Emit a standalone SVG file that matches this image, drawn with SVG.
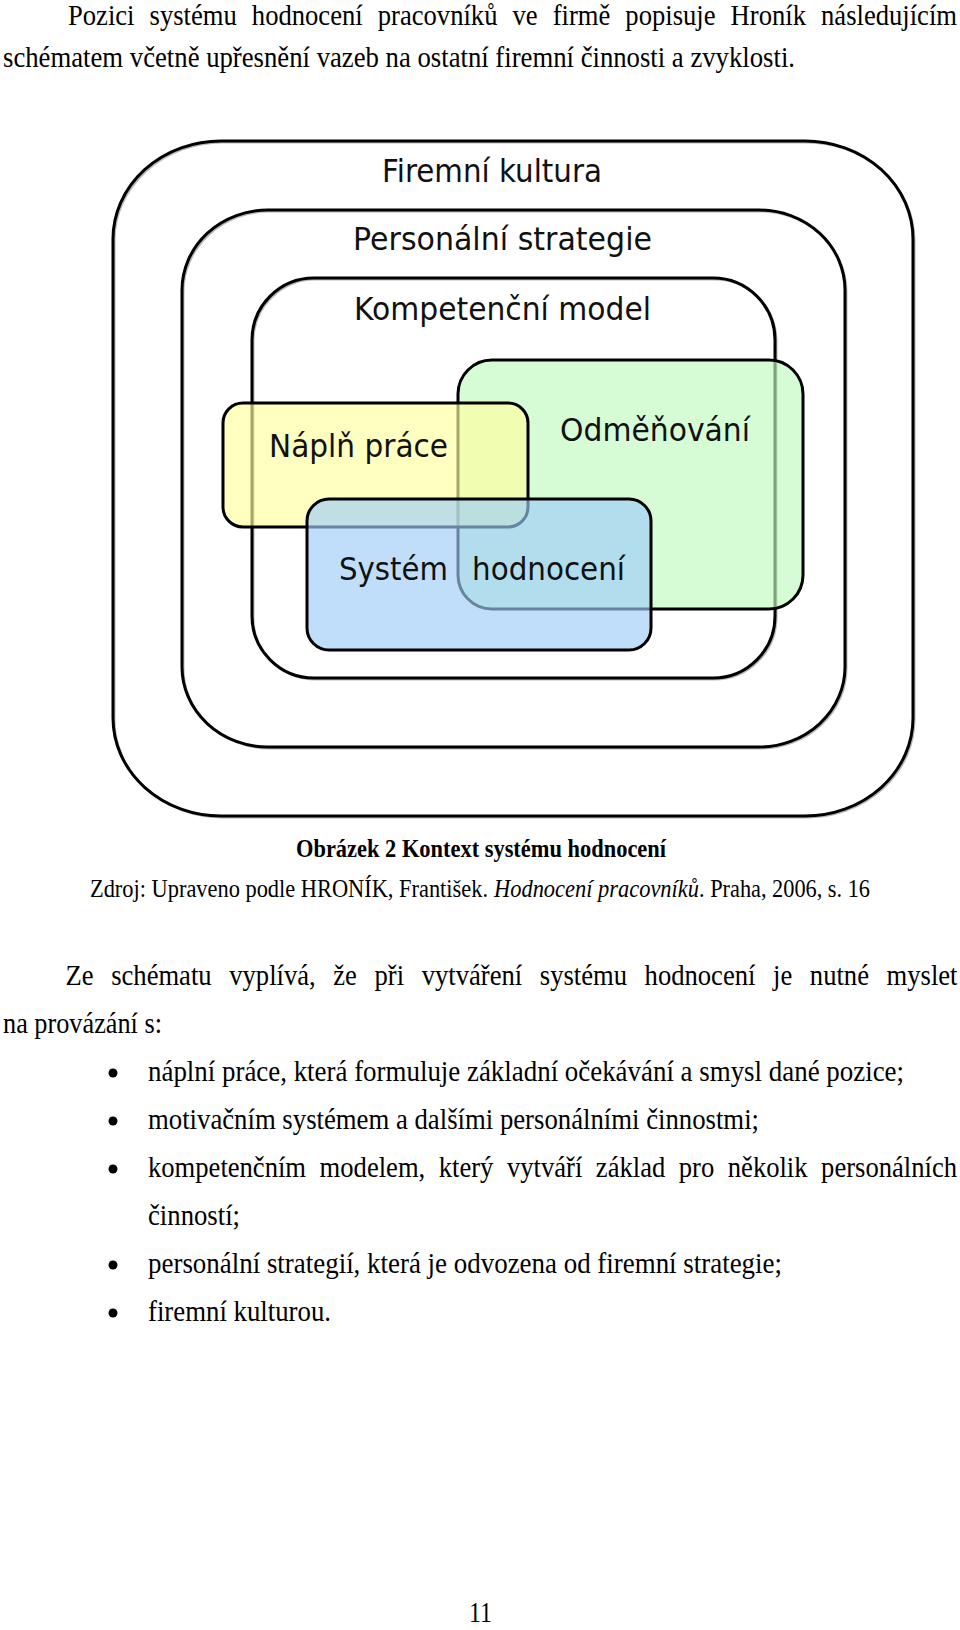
<svg xmlns="http://www.w3.org/2000/svg" width="960" height="1630" viewBox="0 0 960 1630">
<defs>
<style>
.body{font-family:"Liberation Serif","Times New Roman",serif;font-size:26.6px;fill:#000}
.cap{font-family:"Liberation Serif","Times New Roman",serif;font-size:22.4px;fill:#000}
.lab{font-family:"DejaVu Sans","Liberation Sans",sans-serif;font-size:32px;fill:#111}
.frame{fill:none;stroke:#000;stroke-width:3}
.shadow{fill:none;stroke:#b8b8b8;stroke-width:2}
.box{stroke:#000;stroke-width:3}
</style>
</defs>
<rect x="0" y="0" width="960" height="1630" fill="#fff"/>

<g id="intro-text">
<text class="body" transform="translate(68,25) scale(1,1.13)" x="0" y="0" textLength="889" lengthAdjust="spacingAndGlyphs" word-spacing="8.4">Pozici systému hodnocení pracovníků ve firmě popisuje Hroník následujícím</text>
<text class="body" transform="translate(3,67) scale(1,1.13)" x="0" y="0" textLength="792" lengthAdjust="spacingAndGlyphs">schématem včetně upřesnění vazeb na ostatní firemní činnosti a zvyklosti.</text>
</g>

<g id="diagram">
<g id="firemni-kultura">
<rect class="shadow" x="114.5" y="142.5" width="800" height="675" rx="108" ry="98"/>
<rect class="frame" x="113" y="141" width="800" height="675" rx="108" ry="98"/>
<text class="lab" x="382" y="182" textLength="220" lengthAdjust="spacingAndGlyphs">Firemní kultura</text>
</g>
<g id="personalni-strategie">
<rect class="shadow" x="183.5" y="211.5" width="663" height="537" rx="86" ry="80"/>
<rect class="frame" x="182" y="210" width="663" height="537" rx="86" ry="80"/>
<text class="lab" x="353" y="250" textLength="299" lengthAdjust="spacingAndGlyphs">Personální strategie</text>
</g>
<g id="kompetencni-model">
<rect class="shadow" x="253.5" y="279.5" width="523" height="400" rx="62" ry="62"/>
<rect class="frame" x="252" y="278" width="523" height="400" rx="62" ry="62"/>
<text class="lab" x="354" y="320" textLength="297" lengthAdjust="spacingAndGlyphs">Kompetenční model</text>
</g>
<g id="odmenovani">
<rect class="box" x="458" y="360" width="345" height="249" rx="34" ry="34" fill="#C0FAC0" fill-opacity="0.65"/>
</g>
<g id="napln-prace">
<rect class="box" x="223" y="403" width="305" height="124" rx="20" ry="20" fill="#FFFF9E" fill-opacity="0.65"/>
</g>
<g id="system-hodnoceni">
<rect class="box" x="307" y="499" width="344" height="151" rx="22" ry="22" fill="#9ECCF7" fill-opacity="0.65"/>
</g>
<g id="labels">
<text class="lab" x="560" y="441" textLength="190" lengthAdjust="spacingAndGlyphs">Odměňování</text>
<text class="lab" x="269" y="457" textLength="179" lengthAdjust="spacingAndGlyphs">Náplň práce</text>
<text class="lab" x="339" y="580" textLength="109" lengthAdjust="spacingAndGlyphs">Systém</text>
<text class="lab" x="472" y="580" textLength="153" lengthAdjust="spacingAndGlyphs">hodnocení</text>
</g>
</g>

<g id="caption">
<text class="cap" transform="translate(296,857) scale(1,1.13)" x="0" y="0" font-weight="bold" textLength="370" lengthAdjust="spacingAndGlyphs">Obrázek 2 Kontext systému hodnocení</text>
<text class="cap" transform="translate(90,897) scale(1,1.13)" x="0" y="0" textLength="398" lengthAdjust="spacingAndGlyphs">Zdroj: Upraveno podle HRONÍK, František.</text>
<text class="cap" transform="translate(494,897) scale(1,1.13)" x="0" y="0" font-style="italic" textLength="205" lengthAdjust="spacingAndGlyphs">Hodnocení pracovníků</text>
<text class="cap" transform="translate(699,897) scale(1,1.13)" x="0" y="0" textLength="171" lengthAdjust="spacingAndGlyphs">. Praha, 2006, s. 16</text>
</g>

<g id="body-text">
<text class="body" transform="translate(65.5,985) scale(1,1.13)" x="0" y="0" textLength="892" lengthAdjust="spacingAndGlyphs" word-spacing="11">Ze schématu vyplívá, že při vytváření systému hodnocení je nutné myslet</text>
<text class="body" transform="translate(3,1033) scale(1,1.13)" x="0" y="0" textLength="159" lengthAdjust="spacingAndGlyphs">na provázání s:</text>
</g>

<g id="bullets">
<circle cx="113" cy="1073" r="4.5" fill="#000"/>
<circle cx="113" cy="1121" r="4.5" fill="#000"/>
<circle cx="113" cy="1169" r="4.5" fill="#000"/>
<circle cx="113" cy="1265" r="4.5" fill="#000"/>
<circle cx="113" cy="1313" r="4.5" fill="#000"/>
<text class="body" transform="translate(148,1081) scale(1,1.13)" x="0" y="0" textLength="756" lengthAdjust="spacingAndGlyphs">náplní práce, která formuluje základní očekávání a smysl dané pozice;</text>
<text class="body" transform="translate(148,1129) scale(1,1.13)" x="0" y="0" textLength="611" lengthAdjust="spacingAndGlyphs">motivačním systémem a dalšími personálními činnostmi;</text>
<text class="body" transform="translate(148,1177) scale(1,1.13)" x="0" y="0" textLength="809" lengthAdjust="spacingAndGlyphs" word-spacing="6.9">kompetenčním modelem, který vytváří základ pro několik personálních</text>
<text class="body" transform="translate(148,1225) scale(1,1.13)" x="0" y="0" textLength="92" lengthAdjust="spacingAndGlyphs">činností;</text>
<text class="body" transform="translate(148,1273) scale(1,1.13)" x="0" y="0" textLength="634" lengthAdjust="spacingAndGlyphs">personální strategií, která je odvozena od firemní strategie;</text>
<text class="body" transform="translate(148,1321) scale(1,1.13)" x="0" y="0" textLength="183" lengthAdjust="spacingAndGlyphs">firemní kulturou.</text>
</g>

<g id="page-number">
<text class="body" transform="translate(469,1622) scale(1,1.13)" x="0" y="0" textLength="23" lengthAdjust="spacingAndGlyphs">11</text>
</g>
</svg>
